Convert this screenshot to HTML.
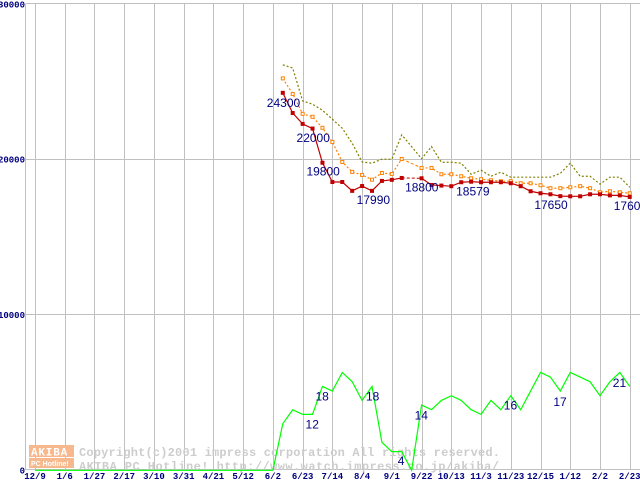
<!DOCTYPE html>
<html><head><meta charset="utf-8"><style>
html,body{margin:0;padding:0;background:#fff;}
svg{display:block;}
.tk{font-family:"Liberation Mono",monospace;font-size:9px;font-weight:bold;fill:#000080;}
.lb{font-family:"Liberation Sans",sans-serif;font-size:12px;fill:#000080;}
.wm{font-family:"Liberation Mono",monospace;font-size:12px;font-weight:bold;fill:#cdcdcd;}
</style></head><body>
<svg id="chart" width="640" height="480" viewBox="0 0 640 480" xmlns="http://www.w3.org/2000/svg">
<g id="grid"></g>
<g id="wmark">
  <rect x="29" y="445" width="45" height="12" fill="#f6b88c"/>
  <text x="31" y="455.5" font-family="Liberation Mono, monospace" font-weight="bold" font-size="11" fill="#fff" letter-spacing="0.8">AKIBA</text>
  <rect x="29" y="458" width="45" height="10" fill="#f6b88c"/>
  <text x="31" y="466" font-family="Liberation Sans, sans-serif" font-weight="bold" font-size="7" fill="#fff">PC Hotline!</text>
  <text class="wm" x="79" y="456" textLength="421">Copyright(c)2001 impress corporation All rights reserved.</text>
  <text class="wm" x="79" y="470" textLength="420">AKIBA PC Hotline! http://www.watch.impress.co.jp/akiba/</text>
</g>
<g id="series"></g>
<g id="labels"></g>
</svg>
<script>
const xLabels = ["12/9","1/6","1/27","2/17","3/10","3/31","4/21","5/12","6/2","6/23","7/14","8/4","9/1","9/22","10/13","11/3","11/23","12/15","1/12","2/2","2/23"];
const yTicks = [0,10000,20000,30000];
const startIdx = 25;
const redPrices = [24300,23000,22300,22000,19800,18560,18560,17990,18300,17990,18630,18700,18820,null,18800,18370,18330,18290,18545,18579,18545,18545,18545,18480,18290,17965,17835,17770,17650,17640,17640,17770,17770,17700,17700,17600];
const orangePrices = [25230,24230,22950,22760,22050,21140,19850,19210,19015,18710,19140,19080,20045,null,19465,19465,19060,19060,18930,18800,18740,18670,18610,18610,18480,18480,18350,18160,18160,18220,18290,18160,17900,17965,17900,17835];
const olivePrices = [26100,25900,23780,23570,23180,22600,22020,21060,19850,19770,20030,20030,21590,20840,20060,20840,19830,19830,19770,19060,19320,18930,19190,18870,18870,18870,18870,18870,19120,19770,18930,18930,18420,18870,18870,18220];
const shopCounts = [0,0,0,0,0,0,0,0,0,0,0,0,0,0,0,0,0,0,0,0,0,0,0,0,0,10,13,12,12,18,17,21,19,15,18,6,4,4,0,14,13,15,16,15,13,12,15,13,16,13,17,21,20,17,21,20,19,16,19,21,18];
const priceLabels = [["24300",25],["22000",28],["19800",29],["17990",32],["18800",39],["18579",44],["17650",53],["17600",60]];
const priceLabelOffsets = [[-16,14],[-16,13.5],[-16,13],[4.5,13],[-16.5,13],[-15,14],[-26,13],[-16,13]];
const countLabels = [["12",28],["18",29],["18",34],["4",37],["14",39],["16",48],["17",53],["21",59]];
const countLabelOffsets = [[-7,14],[-7,14],[-6,14],[-4,13.5],[-7,14.5],[-7,14],[-7,15],[-7,14.5]];

const NS="http://www.w3.org/2000/svg";
const X0=35, DX=9.912, Y0=470.3, KY=466/30000, KC=4.66;
const xs = i => X0 + i*DX;
const yp = v => Y0 - v*KY;
const yc = c => Y0 - c*KC;
function mk(tag, parent){const e=document.createElementNS(NS,tag);parent.appendChild(e);return e;}
const grid=document.getElementById('grid'), ser=document.getElementById('series'), lab=document.getElementById('labels');

for(let k=0;k<xLabels.length;k++){
  const l=mk('line',grid);
  
  
  const x=Math.round(xs(k*3))+0.5;
  l.setAttribute('x1',x);l.setAttribute('x2',x);l.setAttribute('y1',4);l.setAttribute('y2',470);
  l.setAttribute('stroke','#c0c0c0');
  const t=mk('text',grid);
  
  
  t.setAttribute('class','tk');t.setAttribute('x',xs(k*3));t.setAttribute('y',479);t.setAttribute('text-anchor','middle');
  t.textContent=xLabels[k];
}
yTicks.forEach(v=>{
  const l=mk('line',grid);
  
  
  const y=Math.round(yp(v))-0.5;
  l.setAttribute('x1',25.5);l.setAttribute('x2',640);l.setAttribute('y1',y);l.setAttribute('y2',y);
  l.setAttribute('stroke','#c0c0c0');
  const t=mk('text',grid);
  
  
  t.setAttribute('class','tk');t.setAttribute('x',25);t.setAttribute('y',yp(v)+3);t.setAttribute('text-anchor','end');
  t.textContent=String(v);
});
const ax=mk('line',grid);


ax.setAttribute('x1',25.5);ax.setAttribute('x2',25.5);ax.setAttribute('y1',4);ax.setAttribute('y2',470);ax.setAttribute('stroke','#c0c0c0');

function drawSeries(arr, start, yfn, color, dash, name, gapDash){
  let seg=[], prev=null;
  const segs=[], gaps=[];
  arr.forEach((v,k)=>{
    const i=start+k;
    if(v===null){ if(seg.length) segs.push(seg); seg=[]; return; }
    const p=[xs(i),yfn(v)];
    if(seg.length===0 && prev) gaps.push([prev,p]);
    seg.push(p); prev=p;
  });
  if(seg.length) segs.push(seg);
  segs.forEach(s=>{
    const pl=mk('polyline',ser);
    
    
    pl.setAttribute('points',s.map(p=>p.join(',')).join(' '));
    pl.setAttribute('fill','none');pl.setAttribute('stroke',color);pl.setAttribute('stroke-width','1.2');
    if(dash) pl.setAttribute('stroke-dasharray',dash);
  });
  gaps.forEach(g=>{
    const l=mk('line',ser);
    
    
    l.setAttribute('x1',g[0][0]);l.setAttribute('y1',g[0][1]);l.setAttribute('x2',g[1][0]);l.setAttribute('y2',g[1][1]);
    l.setAttribute('stroke',color);l.setAttribute('stroke-dasharray',gapDash||'3,2');
  });
}
drawSeries(shopCounts,0,yc,'#00ff00',null,'shop-count');
drawSeries(olivePrices,startIdx,yp,'#808000','2,2','max-price');
drawSeries(orangePrices,startIdx,yp,'#ff8000','2,2','average-price');
drawSeries(redPrices,startIdx,yp,'#c00000',null,'min-price');
orangePrices.forEach((v,k)=>{ if(v===null) return;
  const r=mk('rect',ser);
  
  
  r.setAttribute('x',xs(startIdx+k)-1.5);r.setAttribute('y',yp(v)-1.5);r.setAttribute('width',3);r.setAttribute('height',3);
  r.setAttribute('fill','#fff');r.setAttribute('stroke','#ff8000');r.setAttribute('stroke-width','1');
});
redPrices.forEach((v,k)=>{ if(v===null) return;
  const r=mk('rect',ser);
  
  
  r.setAttribute('x',xs(startIdx+k)-2);r.setAttribute('y',yp(v)-2);r.setAttribute('width',4);r.setAttribute('height',4);
  r.setAttribute('fill','#c00000');
});
priceLabels.forEach((d,n)=>{
  const t=mk('text',lab);
  
  
  t.setAttribute('class','lb');
  const i=d[1];
  t.setAttribute('x',xs(i)+priceLabelOffsets[n][0]);
  t.setAttribute('y',yp(redPrices[i-startIdx])+priceLabelOffsets[n][1]);
  t.textContent=d[0];
});
countLabels.forEach((d,n)=>{
  const t=mk('text',lab);
  
  
  t.setAttribute('class','lb');
  const i=d[1];
  t.setAttribute('x',xs(i)+countLabelOffsets[n][0]);
  t.setAttribute('y',yc(shopCounts[i])+countLabelOffsets[n][1]);
  t.textContent=d[0];
});
</script>
</body></html>
